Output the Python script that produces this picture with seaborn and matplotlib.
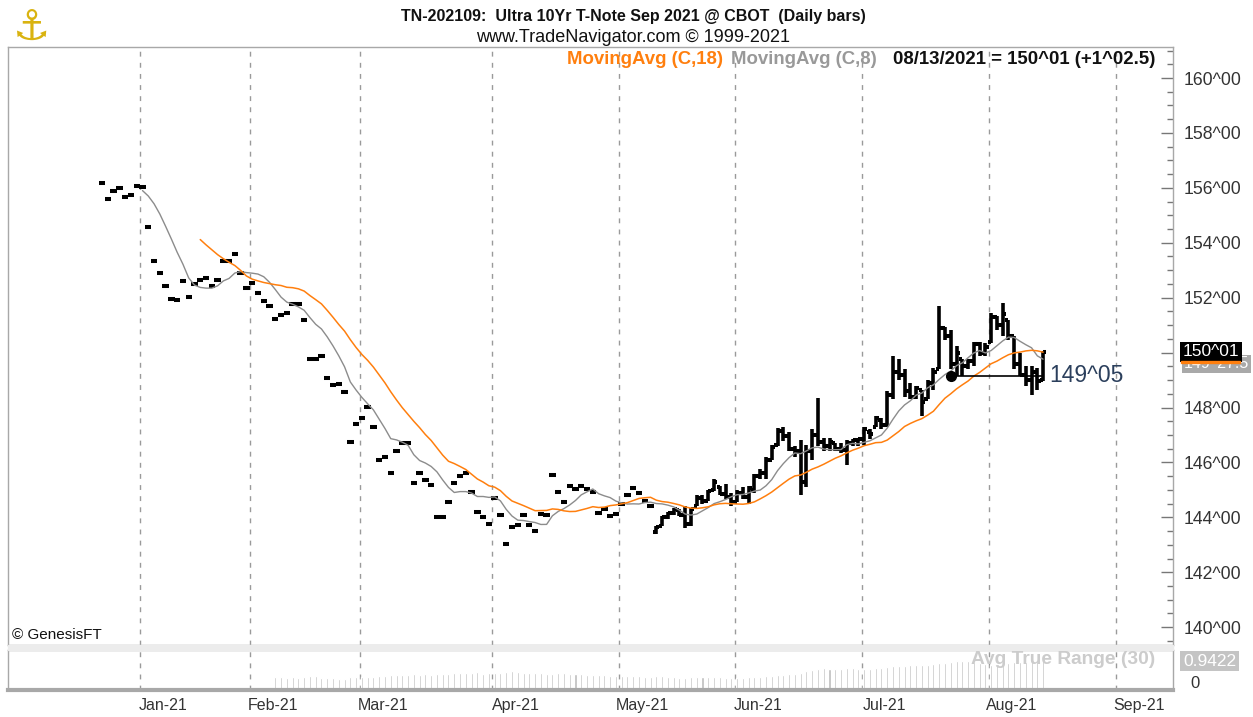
import numpy as np
import pandas as pd
import matplotlib
matplotlib.use("Agg")
import matplotlib.pyplot as plt
from matplotlib.patches import Rectangle
import seaborn as sns

sns.set_style("white")
plt.rcParams['font.family'] = ['Liberation Sans Narrow', 'Liberation Sans', 'DejaVu Sans']

# --- data: Sep 2021 Ultra 10Yr T-Note, daily bars ---
# thin early trading: one price a day (Dec 22 2020 .. May 10 2021)
early_price = [
    156.17, 155.59, 155.90, 156.01, 155.68, 155.75, 156.07,
    156.03, 154.59, 153.33, 152.91, 152.44, 151.97, 151.90, 152.59, 152.03, 152.50,
    152.65, 152.70, 152.43, 152.65, 153.33, 153.33, 153.60, 152.90, 152.37,
    152.53, 152.17, 151.87, 151.71, 151.23, 151.38, 151.44, 151.76, 151.76, 151.17,
    149.75, 149.75, 149.87, 149.07, 148.81, 148.87, 148.56, 146.76, 147.39,
    147.61, 148.01, 147.28, 146.08, 146.19, 145.60, 146.40, 146.72, 146.72, 145.24,
    145.60, 145.35, 145.19, 144.03, 144.03, 144.56, 145.24, 145.50, 145.60, 144.92,
    144.19, 144.03, 143.77,
    144.70, 144.08, 143.03, 143.66, 143.72, 144.08, 143.72, 143.50, 144.13, 144.10,
    145.54, 144.92, 144.56, 145.14, 145.02, 145.14, 145.02, 144.92, 144.17, 144.29,
    144.05, 144.11,
    144.50, 144.81, 145.08, 144.87, 144.59, 144.41,
]

# full OHLC bars (May 11 .. Aug 13 2021)
late_open = [
    143.45, 143.70, 144.00, 144.15, 144.25, 144.10, 143.75, 144.40, 144.70, 144.60,
    145.00, 145.10, 144.85, 144.75,
    144.55, 144.90, 144.75, 145.00, 145.50, 145.60, 146.10, 146.65, 147.15, 146.95,
    146.50, 146.40, 145.30, 146.40, 147.00, 146.75, 146.60, 146.70, 146.50, 146.45,
    146.70, 146.80,
    146.85, 147.10, 147.30, 147.55, 147.35, 148.45, 149.30, 149.20, 148.60, 148.40,
    148.65, 148.30, 148.90, 149.40, 150.90, 150.60, 149.60, 149.75, 149.50, 149.70,
    150.30, 150.00,
    150.40, 151.30, 151.00, 151.20, 150.60, 149.60, 149.20, 149.00, 149.30, 149.00,
]
late_high = [
    143.70, 144.05, 144.20, 144.35, 144.30, 144.40, 144.35, 144.80, 144.80, 145.00,
    145.40, 145.14, 145.20, 144.90,
    145.00, 145.10, 145.14, 145.56, 145.75, 146.20, 146.65, 147.24, 147.30, 147.10,
    146.60, 146.80, 146.65, 147.20, 148.36, 146.90, 146.90, 146.70, 146.70, 146.80,
    146.84, 146.90,
    147.30, 147.20, 147.70, 147.60, 148.60, 149.87, 149.75, 149.40, 148.90, 148.80,
    148.65, 149.00, 149.45, 151.68, 150.95, 150.84, 150.23, 149.75, 149.75, 150.40,
    150.40, 150.36,
    151.45, 151.32, 151.80, 151.20, 150.60, 150.00, 149.50, 149.50, 149.45, 150.05,
]
late_low = [
    143.40, 143.70, 143.95, 144.10, 144.05, 143.60, 143.70, 144.40, 144.50, 144.60,
    144.95, 144.80, 144.65, 144.40,
    144.55, 144.65, 144.50, 144.90, 145.40, 145.40, 146.10, 146.60, 146.77, 146.40,
    146.20, 144.80, 145.10, 146.10, 146.60, 146.40, 146.40, 146.40, 146.35, 145.90,
    146.60, 146.60,
    146.65, 146.85, 147.30, 147.20, 147.30, 148.30, 149.00, 148.40, 148.30, 148.30,
    147.70, 148.30, 148.65, 149.40, 150.47, 149.40, 149.14, 149.14, 149.40, 149.50,
    149.86, 149.86,
    150.36, 150.84, 150.60, 150.47, 149.40, 149.14, 148.77, 148.47, 148.65, 148.96,
]
late_close = [
    143.65, 144.00, 144.15, 144.30, 144.10, 143.75, 144.30, 144.70, 144.60, 144.95,
    145.30, 144.85, 144.75, 144.55,
    144.90, 144.75, 145.05, 145.50, 145.60, 146.10, 146.55, 147.15, 146.95, 146.50,
    146.40, 145.30, 146.40, 147.00, 146.75, 146.60, 146.75, 146.50, 146.45, 146.70,
    146.80, 146.85,
    147.20, 147.05, 147.60, 147.35, 148.45, 149.30, 149.20, 148.60, 148.40, 148.70,
    148.20, 148.90, 149.30, 150.90, 150.60, 149.60, 150.00, 149.50, 149.70, 150.30,
    150.00, 150.20,
    151.30, 151.00, 151.40, 150.60, 149.60, 149.20, 149.00, 149.30, 148.95, 150.03,
]

month_labels = ["Jan-21", "Feb-21", "Mar-21", "Apr-21", "May-21", "Jun-21", "Jul-21", "Aug-21", "Sep-21"]
price_ticks = [140, 142, 144, 146, 148, 150, 152, 154, 156, 158, 160]
marker_price = 149 + 5 / 32          # 149^05 horizontal line
marker_start = "2021-07-22"

# --- trading calendar (index based x axis, no weekends) ---
days = pd.bdate_range("2020-12-22", "2021-09-30")
closed = pd.to_datetime(["2020-12-25", "2021-01-01", "2021-01-18", "2021-02-15",
                         "2021-05-31", "2021-09-06"])
days = days[~days.isin(closed)]

df = pd.DataFrame({
    "open": early_price + late_open,
    "high": early_price + late_high,
    "low": early_price + late_low,
    "close": early_price + late_close,
})
df["date"] = days[:len(df)]
df["i"] = np.arange(len(df))
df["ma18"] = df["close"].rolling(18).mean()
df["ma8"] = df["close"].rolling(8).mean()
prev_close = df["close"].shift(1)
tr = np.maximum(df["high"], prev_close) - np.minimum(df["low"], prev_close)
df["atr"] = tr.rolling(30).mean()

month_start = [int(np.argmax(days >= pd.Timestamp(f"2021-{m:02d}-01"))) for m in range(1, 10)]

# --- figure layout in pixels ---
W, H = 1253, 717
fig = plt.figure(figsize=(W / 100, H / 100), dpi=100)

def box(l, t, r, b):
    return [l / W, 1 - b / H, (r - l) / W, (b - t) / H]

ax = fig.add_axes(box(8, 47, 1173, 645))
ax_atr = fig.add_axes(box(8, 650, 1173, 690), sharex=ax)
fig.patches.append(Rectangle((8 / W, 1 - 650 / H), 1165 / W, 5 / H, transform=fig.transFigure,
                             color="#ececec", zorder=0))

grid_col = "#9a9a9a"
for a in (ax, ax_atr):
    for m in month_start:
        a.axvline(m - 0.4, color=grid_col, ls=(0, (3.5, 4.5)), lw=1, zorder=0)
    for s in a.spines.values():
        s.set_color("#a8a8a8")
        s.set_linewidth(1)

# OHLC bars
ax.vlines(df["i"], df["low"], df["high"], color="black", lw=2.6, zorder=3)
ax.hlines(df["open"], df["i"] - 0.55, df["i"], color="black", lw=2.9, zorder=3)
ax.hlines(df["close"], df["i"], df["i"] + 0.55, color="black", lw=2.9, zorder=3)

# moving averages
sns.lineplot(data=df, x="i", y="ma8", ax=ax, color="#8c8c8c", lw=1, zorder=4)
sns.lineplot(data=df, x="i", y="ma18", ax=ax, color="#ff7f0e", lw=1.1, zorder=4)

# 149^05 line with dot
i0 = int(df.index[df["date"] == pd.Timestamp(marker_start)][0])
i1 = int(df["i"].iloc[-1])
ax.hlines(marker_price, i0, i1, color="black", lw=1.2, zorder=5)
ax.plot([i0], [marker_price], "o", color="black", ms=7, zorder=5)
ax.text(i1 + 1, marker_price, "149^05", color="#2b3f5c", fontsize=16.5, va="center",
        family=["Liberation Sans", "DejaVu Sans"])

ax.set_xlim(-16.3, 185.5)
ax.set_ylim(139.35, 161.13)
ax.set_xlabel("")
ax.set_ylabel("")
ax.yaxis.tick_right()
ax.set_yticks(price_ticks)
ax.set_yticklabels([f"{v}^00" for v in price_ticks], family=["Liberation Sans", "DejaVu Sans"])
ax.set_yticks(np.arange(139.5, 161.1, 0.5), minor=True)
ax.tick_params(axis="y", which="major", direction="in", length=9, width=1, color="#777777",
               labelsize=12.7, labelcolor="#333333", pad=8, right=True, left=False)
ax.tick_params(axis="y", which="minor", direction="in", length=4, width=1, color="#777777",
               right=True, left=False)
ax.tick_params(axis="x", bottom=False, labelbottom=False)

# ATR panel: scaled so the latest value sits at its label, as in the original
ax_atr.bar(df["i"], df["atr"], width=0.35, color="#bdbdbd", zorder=2)
ax_atr.set_ylim(0, df["atr"].iloc[-1] * 40 / 30)
ax_atr.set_yticks([])
ax_atr.set_xlabel("")
ax_atr.set_ylabel("")
ax_atr.spines["bottom"].set_linewidth(3)
ax_atr.set_xticks([m + 3.6 for m in month_start])
ax_atr.set_xticklabels(month_labels, family=["Liberation Sans", "DejaVu Sans"])
ax_atr.tick_params(axis="x", length=0, labelsize=11.5, labelcolor="#333333", pad=6)
ax_atr.tick_params(axis="y", left=False, right=False)
ax_atr.set_xlim(-16.3, 185.5)

# --- text ---
def ftext(x, y, s, **kw):
    fig.text(x / W, 1 - y / H, s, **kw)

ftext(633, 16, "TN-202109:  Ultra 10Yr T-Note Sep 2021 @ CBOT  (Daily bars)", ha="center", va="center",
      fontsize=11.5, fontweight="bold", color="#111111")
ftext(633, 38, "www.TradeNavigator.com \u00a9 1999-2021", ha="center", va="center",
      fontsize=13, color="#111111")
ftext(723, 59, "MovingAvg (C,18)", ha="right", va="center", fontsize=13.4, fontweight="bold", color="#ff7f0e")
ftext(877, 59, "MovingAvg (C,8)", ha="right", va="center", fontsize=13.4, fontweight="bold", color="#999999")
ftext(1155, 59, "08/13/2021 = 150^01 (+1^02.5)", ha="right", va="center", fontsize=13.4,
      fontweight="bold", color="#111111")
ftext(12, 635, "\u00a9 GenesisFT", ha="left", va="center", fontsize=11, color="#111111",
      family=["Liberation Sans", "DejaVu Sans"])
ftext(1155, 659, "Avg True Range (30)", ha="right", va="center", fontsize=13.8, fontweight="bold",
      color="#cccccc")
ftext(1183, 661, "0.9422", ha="left", va="center", fontsize=12.5, color="white",
      family=["Liberation Sans", "DejaVu Sans"],
      bbox=dict(boxstyle="square,pad=0.15", fc="#c4c4c4", ec="none"))
ftext(1190, 684, "0", ha="left", va="center", fontsize=12, color="#333333",
      family=["Liberation Sans", "DejaVu Sans"])
ftext(1184, 364, "149^27.5", ha="left", va="center", fontsize=11.5, color="white",
      family=["Liberation Sans", "DejaVu Sans"],
      bbox=dict(boxstyle="square,pad=0.1", fc="#a9a9a9", ec="none"))
ftext(1183, 352, "150^01", ha="left", va="center", fontsize=12.5, color="white",
      family=["Liberation Sans", "DejaVu Sans"],
      bbox=dict(boxstyle="square,pad=0.15", fc="black", ec="none"))
fig.patches.append(Rectangle((1181 / W, 1 - 363 / H), 59 / W, 2 / H, transform=fig.transFigure,
                             color="#ff7f0e", zorder=5))
ftext(32, 28, "\u2693", ha="center", va="center", fontsize=30, color="#d9b310",
      family=["DejaVu Sans"])

fig.savefig("out.png", dpi=100)
